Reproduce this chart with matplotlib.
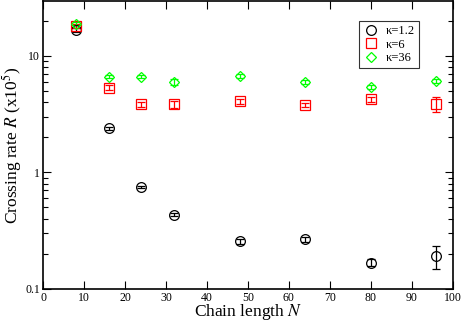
import numpy as np
import matplotlib
matplotlib.use("Agg")
import matplotlib.pyplot as plt
from matplotlib.lines import Line2D
from matplotlib.ticker import LogLocator, NullFormatter, FixedLocator, FixedFormatter

plt.rcParams['font.family'] = ['Liberation Serif', 'DejaVu Serif']
plt.rcParams['mathtext.fontset'] = 'stix'

# chain lengths
N = [8, 16, 24, 32, 48, 64, 80, 96]

# crossing rates (x10^5) for each stiffness
r_k12 = [16.6, 2.39, 0.748, 0.433, 0.256, 0.266, 0.168, 0.191]
e_k12 = [0.6, 0.07, 0.02, 0.012, 0.012, 0.015, 0.012, 0.042]
r_k6 = [18.0, 5.33, 3.83, 3.83, 4.09, 3.76, 4.23, 3.85]
e_k6 = [0.7, 0.25, 0.2, 0.25, 0.2, 0.15, 0.2, 0.57]
r_k36 = [18.9, 6.63, 6.63, 5.92, 6.66, 5.92, 5.4, 6.08]
e_k36 = [0.6, 0.25, 0.2, 0.35, 0.25, 0.25, 0.25, 0.25]

labels = ['\u03ba=1.2', '\u03ba=6', '\u03ba=36']
colors = ['black', '#ff0000', '#00ff00']
markers = ['o', 's', 'D']

fig = plt.figure(figsize=(4.63, 3.21), dpi=100)
ax = fig.add_axes([0.093, 0.1, 0.885, 0.897])

series = [(r_k12, e_k12), (r_k6, e_k6), (r_k36, e_k36)]
sizes = [7, 6.5, 5.5]
handles = []
for (r, e), lab, c, m, s in zip(series, labels, colors, markers, sizes):
    ax.errorbar(N, r, yerr=e, fmt=m, mfc='none', mec=c, ecolor=c, ms=s,
                mew=0.9, elinewidth=0.9, capsize=3, capthick=0.9)
    handles.append(Line2D([], [], ls='none', marker=m, mfc='none', mec=c,
                          ms=s, mew=0.9, label=lab))

ax.set_yscale('log')
ax.set_xlim(0, 100)
ax.set_ylim(0.1, 29.5)
ax.set_xticks(range(0, 101, 10))
ax.yaxis.set_major_locator(FixedLocator([0.1, 1, 10]))
ax.yaxis.set_major_formatter(FixedFormatter(['0.1', '1', '10']))
ax.yaxis.set_minor_locator(LogLocator(base=10, subs=np.arange(2, 10), numticks=20))
ax.yaxis.set_minor_formatter(NullFormatter())
ax.tick_params(which='both', direction='in', top=True, right=True, labelsize=8.5, pad=2)
ax.tick_params(which='major', length=6, width=0.8)
ax.tick_params(which='minor', length=3.5, width=0.8)
for sp in ax.spines.values():
    sp.set_linewidth(1.2)

ax.set_xlabel('Chain length $N$', fontsize=12.5, labelpad=-1)
ax.set_ylabel('Crossing rate $R$ (x10$^{5}$)', fontsize=12.5, labelpad=1)

leg = ax.legend(handles=handles, loc='upper right', bbox_to_anchor=(0.918, 0.93),
                fontsize=9, frameon=True, fancybox=False, edgecolor='black',
                handletextpad=0.6, borderpad=0.35, labelspacing=0.1,
                handlelength=1.2, borderaxespad=0)
leg.get_frame().set_linewidth(0.8)

fig.savefig('out.png', dpi=100)
